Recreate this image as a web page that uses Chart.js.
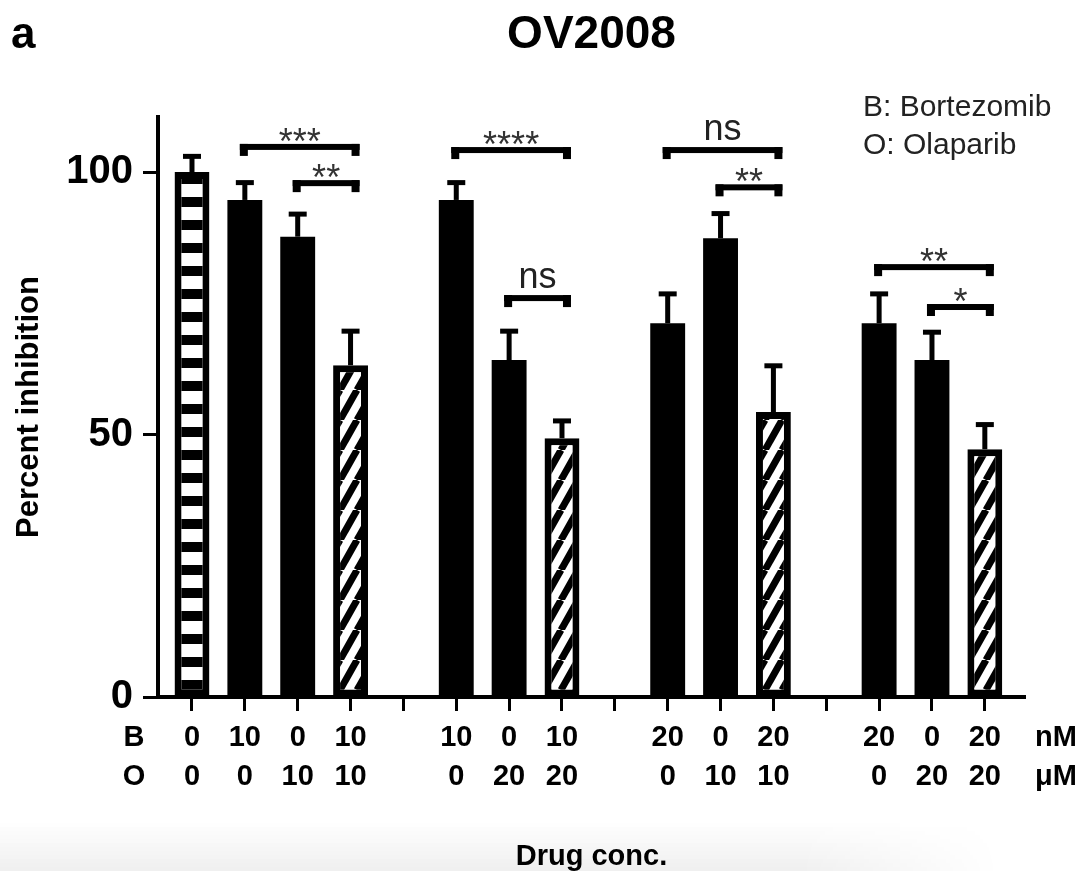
<!DOCTYPE html>
<html>
<head>
<meta charset="utf-8">
<title>OV2008</title>
<script src="https://cdn.jsdelivr.net/npm/chart.js@4"></script>
<style>
  html, body { margin: 0; padding: 0; background: #fff; }
  canvas { display: block; }
</style>
</head>
<body>
<canvas id="ov2008" width="1089" height="871"></canvas>
<script>
// doses per slot (null = spacer between groups)
const bortezomib = [0, 10, 0, 10, null, 10, 0, 10, null, 20, 0, 20, null, 20, 0, 20];
const olaparib   = [0, 0, 10, 10, null, 0, 20, 20, null, 0, 10, 10, null, 0, 20, 20];
const inhibition = [100, 94.7, 87.7, 63.2, null, 94.7, 64.2, 49.3, null, 71.2, 87.4, 54.3, null, 71.2, 64.2, 47.2];
const sem        = [3, 3.3, 4.3, 6.5, null, 3.3, 5.5, 3.3, null, 5.6, 4.7, 8.8, null, 5.6, 5.3, 4.7];
const yTicks = [0, 50, 100];

// significance brackets: slot from, slot to, height (percent), label
const compFrom  = [1, 2, 5, 6, 9, 10, 13, 14];
const compTo    = [3, 3, 7, 7, 11, 11, 15, 15];
const compLevel = [104.8, 97.9, 104.2, 76, 104.2, 97.1, 81.9, 74.3];
const compText  = ['***', '**', '****', 'ns', 'ns', '**', '**', '*'];

const FONT = "'Liberation Sans', Arial, Helvetica, sans-serif";

// fill patterns
function ladderPattern() {
  const c = document.createElement('canvas');
  c.width = 4; c.height = 23;
  const g = c.getContext('2d');
  g.fillStyle = '#fff'; g.fillRect(0, 0, 4, 23);
  g.fillStyle = '#000'; g.fillRect(0, 13, 4, 10);
  return g.createPattern(c, 'repeat');
}
function hatchPattern() {
  const w = 17, h = 30;
  const c = document.createElement('canvas');
  c.width = w; c.height = h;
  const g = c.getContext('2d');
  g.fillStyle = '#fff'; g.fillRect(0, 0, w, h);
  g.strokeStyle = '#000'; g.lineWidth = 7;
  for (let k = -1; k <= 1; k++) {
    g.beginPath();
    g.moveTo(k * w, h);
    g.lineTo((k + 1) * w, 0);
    g.stroke();
  }
  return g.createPattern(c, 'repeat');
}
const ladder = ladderPattern();
const hatch = hatchPattern();

function fillFor(i) {
  if (bortezomib[i] === 0 && olaparib[i] === 0) return ladder;
  if (bortezomib[i] > 0 && olaparib[i] > 0) return hatch;
  return '#000';
}

const points = [];
const fills = [];
const borders = [];
inhibition.forEach(function(v, i) {
  if (v === null) return;
  points.push({x: i, y: v});
  const f = fillFor(i);
  fills.push(f);
  borders.push(f === '#000' ? 0 : 7);
});

// light grey strip along the bottom edge
const bottomShade = {
  id: 'bottomShade',
  beforeDraw: function(chart) {
    const ctx = chart.ctx;
    ctx.save();
    for (let k = 0; k < 12; k++) {
      const a = 0.06 * (k + 1) / 12;
      const grd = ctx.createLinearGradient(0, 0, 1000, 0);
      grd.addColorStop(0, 'rgba(0,0,0,' + a + ')');
      grd.addColorStop(0.8, 'rgba(0,0,0,' + a + ')');
      grd.addColorStop(1, 'rgba(0,0,0,0)');
      ctx.fillStyle = grd;
      ctx.fillRect(0, 823 + k * 4, 1000, 4);
    }
    ctx.restore();
  }
};

// error whiskers + significance brackets
const marks = {
  id: 'marks',
  afterDatasetsDraw: function(chart) {
    const ctx = chart.ctx;
    const xs = chart.scales.x, ys = chart.scales.y;
    ctx.save();
    ctx.fillStyle = '#000';
    inhibition.forEach(function(v, i) {
      if (v === null) return;
      const x = xs.getPixelForValue(i);
      const yTop = ys.getPixelForValue(v);
      const yErr = ys.getPixelForValue(v + sem[i]);
      ctx.fillRect(x - 2.5, yErr, 5, yTop - yErr);
      ctx.fillRect(x - 9, yErr - 2.5, 18, 5);
    });

    compText.forEach(function(txt, k) {
      const x1 = xs.getPixelForValue(compFrom[k]) - 5;
      const x2 = xs.getPixelForValue(compTo[k]) + 9;
      const y = ys.getPixelForValue(compLevel[k]);
      ctx.fillStyle = '#000';
      ctx.fillRect(x1, y - 3, x2 - x1, 6);
      ctx.fillRect(x1, y - 3, 8, 12);
      ctx.fillRect(x2 - 8, y - 3, 8, 12);
      ctx.textAlign = 'center';
      ctx.textBaseline = 'alphabetic';
      if (txt === 'ns') {
        ctx.fillStyle = '#222';
        ctx.font = '36px ' + FONT;
        ctx.fillText(txt, (x1 + x2) / 2, y - 10);
      } else {
        ctx.fillStyle = '#333';
        ctx.font = '36px ' + FONT;
        ctx.fillText(txt, (x1 + x2) / 2, y + 7);
      }
    });
    ctx.restore();
  }
};

// panel letter, title, drug key, row heads and units
const annotations = {
  id: 'annotations',
  afterDraw: function(chart) {
    const ctx = chart.ctx;
    const area = chart.chartArea;
    ctx.save();
    ctx.fillStyle = '#000';
    ctx.textBaseline = 'alphabetic';

    ctx.font = 'bold 44px ' + FONT;
    ctx.textAlign = 'left';
    ctx.fillText('a', 11, 48);

    ctx.font = 'bold 46px ' + FONT;
    ctx.textAlign = 'center';
    ctx.fillText('OV2008', (area.left + area.right) / 2, 48);

    ctx.font = '30px ' + FONT;
    ctx.textAlign = 'left';
    ctx.fillStyle = '#222';
    ctx.fillText('B: Bortezomib', 863, 116);
    ctx.fillText('O: Olaparib', 863, 154);

    ctx.fillStyle = '#000';
    ctx.font = 'bold 29px ' + FONT;
    ctx.textBaseline = 'middle';
    ctx.textAlign = 'center';
    ctx.fillText('B', 134, 738);
    ctx.fillText('O', 134, 777);
    ctx.textAlign = 'left';
    ctx.fillText('nM', 1035, 738);
    ctx.fillText('\u03bcM', 1035, 777);
    ctx.restore();
  }
};

new Chart(document.getElementById('ov2008'), {
  type: 'bar',
  data: {
    datasets: [{
      data: points,
      backgroundColor: fills,
      borderColor: '#000',
      borderWidth: borders,
      borderSkipped: false,
      categoryPercentage: 0.66,
      barPercentage: 1
    }]
  },
  options: {
    responsive: false,
    animation: false,
    events: [],
    layout: { padding: { left: 0, top: 117, right: 64, bottom: 0 } },
    plugins: {
      legend: { display: false },
      tooltip: { enabled: false },
      title: { display: false }
    },
    scales: {
      x: {
        type: 'linear',
        min: -0.643,
        max: 15.76,
        offset: false,
        afterBuildTicks: function(scale) {
          scale.ticks = bortezomib.map(function(b, i) { return {value: i}; });
        },
        afterFit: function(scale) { scale.height = 174; },
        grid: {
          offset: false,
          drawOnChartArea: false,
          drawTicks: true,
          tickLength: 14,
          tickWidth: 3,
          tickColor: '#000'
        },
        border: { display: true, width: 4, color: '#000' },
        ticks: {
          autoSkip: false,
          maxRotation: 0,
          padding: 7,
          color: '#000',
          font: { family: FONT, size: 29, weight: 'bold', lineHeight: 1.345 },
          callback: function(value) {
            if (bortezomib[value] == null) return '';
            return [String(bortezomib[value]), String(olaparib[value])];
          }
        },
        title: {
          display: true,
          text: 'Drug conc.',
          color: '#000',
          font: { family: FONT, size: 29, weight: 'bold', lineHeight: 1 },
          padding: { top: 0, bottom: 0 }
        }
      },
      y: {
        min: 0,
        max: 110.5,
        afterBuildTicks: function(scale) {
          scale.ticks = yTicks.map(function(v) { return {value: v}; });
        },
        afterFit: function(scale) { scale.width = 158; },
        grid: {
          drawOnChartArea: false,
          drawTicks: true,
          tickLength: 15,
          tickWidth: 3,
          tickColor: '#000'
        },
        border: { display: true, width: 4, color: '#000' },
        ticks: {
          padding: 10,
          color: '#000',
          font: { family: FONT, size: 40, weight: 'bold' }
        },
        title: {
          display: true,
          text: 'Percent inhibition',
          color: '#000',
          font: { family: FONT, size: 31, weight: 'bold' },
          padding: { top: 11, bottom: 0 }
        }
      }
    }
  },
  plugins: [bottomShade, marks, annotations]
});
</script>
</body>
</html>
